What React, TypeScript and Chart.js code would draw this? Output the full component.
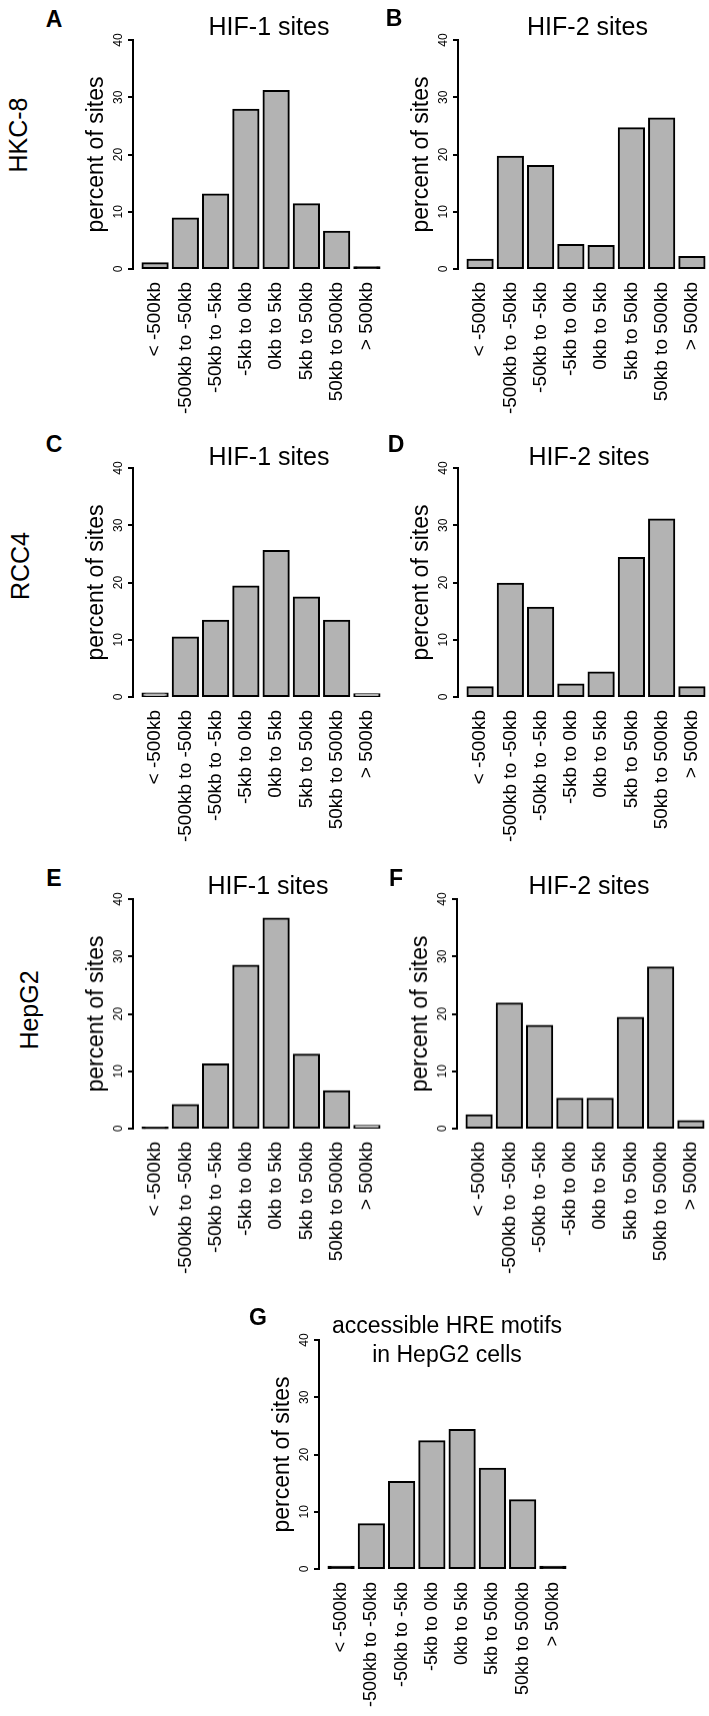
import React, { useEffect, useRef } from "react";
import { Chart, registerables } from "chart.js";

Chart.register(...registerables);

// ---------- data ----------
const categories = [
  "< -500kb",
  "-500kb to -50kb",
  "-50kb to -5kb",
  "-5kb to 0kb",
  "0kb to 5kb",
  "5kb to 50kb",
  "50kb to 500kb",
  "> 500kb",
];
const yTicks = [0, 10, 20, 30, 40];

const hkc8Hif1 = [1.0, 8.8, 13.0, 27.8, 31.1, 11.3, 6.5, 0.3];
const hkc8Hif2 = [1.6, 19.6, 18.0, 4.2, 4.0, 24.6, 26.3, 2.1];
const rcc4Hif1 = [0.6, 10.4, 13.3, 19.3, 25.5, 17.4, 13.3, 0.5];
const rcc4Hif2 = [1.7, 19.8, 15.6, 2.2, 4.3, 24.3, 31.0, 1.7];
const hepg2Hif1 = [0.1, 4.1, 11.2, 28.4, 36.6, 12.9, 6.5, 0.5];
const hepg2Hif2 = [2.3, 21.8, 17.9, 5.2, 5.2, 19.3, 28.1, 1.3];
const hepg2Hre = [0.4, 7.8, 15.2, 22.3, 24.3, 17.5, 12.0, 0.4];

// ---------- layout (positions only) ----------
const FONT = "'Liberation Sans', Arial, Helvetica, sans-serif";
const PLOT_W = 256;
const PAD_L = 70;
const PAD_T = 20;
const PAD_R = 10;
const PAD_B = 175;

type PanelDef = { values: number[]; L: number; T: number; B: number; labelSize: number };

const panels: PanelDef[] = [
  { values: hkc8Hif1, L: 133, T: 39.5, B: 269, labelSize: 19 },
  { values: hkc8Hif2, L: 458, T: 39.5, B: 269.3, labelSize: 19 },
  { values: rcc4Hif1, L: 133, T: 467.6, B: 697.3, labelSize: 19 },
  { values: rcc4Hif2, L: 457.5, T: 467.5, B: 696.7, labelSize: 19 },
  { values: hepg2Hif1, L: 133.3, T: 899.3, B: 1129, labelSize: 19 },
  { values: hepg2Hif2, L: 456.5, T: 899.3, B: 1129, labelSize: 19 },
  { values: hepg2Hre, L: 319.3, T: 1340, B: 1569, labelSize: 18 },
];

type LabelDef = { text: string; x: number; y: number; size: number; bold?: boolean; rotate?: boolean };

const labels: LabelDef[] = [
  { text: "A", x: 54, y: 18.5, size: 23, bold: true },
  { text: "B", x: 394, y: 18, size: 23, bold: true },
  { text: "C", x: 54, y: 443.5, size: 23, bold: true },
  { text: "D", x: 396, y: 443.5, size: 23, bold: true },
  { text: "E", x: 54, y: 877.5, size: 23, bold: true },
  { text: "F", x: 396, y: 877.5, size: 23, bold: true },
  { text: "G", x: 258, y: 1317, size: 23, bold: true },
  { text: "HIF-1 sites", x: 269, y: 26, size: 25 },
  { text: "HIF-2 sites", x: 587.5, y: 26, size: 25 },
  { text: "HIF-1 sites", x: 269, y: 456, size: 25 },
  { text: "HIF-2 sites", x: 589, y: 456, size: 25 },
  { text: "HIF-1 sites", x: 268, y: 885, size: 25 },
  { text: "HIF-2 sites", x: 589, y: 885, size: 25 },
  { text: "accessible HRE motifs", x: 447, y: 1325, size: 23 },
  { text: "in HepG2 cells", x: 447, y: 1354, size: 23 },
  { text: "HKC-8", x: 18, y: 135, size: 25, rotate: true },
  { text: "RCC4", x: 20, y: 566, size: 25, rotate: true },
  { text: "HepG2", x: 29, y: 1010, size: 25, rotate: true },
];

function Panel({ def }: { def: PanelDef }) {
  const ref = useRef<HTMLCanvasElement | null>(null);
  const width = PLOT_W + PAD_L + PAD_R;
  const height = def.B - def.T + PAD_T + PAD_B;

  useEffect(() => {
    if (!ref.current) return;
    const pxPerUnit = (def.B - def.T) / 40;
    const chart = new Chart(ref.current, {
      type: "bar",
      data: {
        datasets: [
          {
            data: def.values.map((v, i) => ({ x: i, y: v })),
            backgroundColor: def.values.map((v) => (v * pxPerUnit <= 2.5 ? "#000000" : "#b3b3b3")),
            borderColor: "#000000",
            borderWidth: 2,
            borderSkipped: false,
            inflateAmount: 1,
            barPercentage: 0.833,
            categoryPercentage: 1,
            clip: false,
          } as any,
        ],
      },
      options: {
        animation: false,
        responsive: false,
        devicePixelRatio: 1,
        events: [],
        layout: { padding: { left: PAD_L - 50, top: PAD_T, right: PAD_R, bottom: 10 } },
        plugins: { legend: { display: false }, tooltip: { enabled: false }, title: { display: false } },
        scales: {
          x: {
            type: "linear",
            min: -0.73,
            max: 7.73,
            offset: false,
            grid: { display: false },
            border: { display: false },
            afterBuildTicks: (s: any) => {
              s.ticks = categories.map((_, i) => ({ value: i }));
            },
            afterFit: (s: any) => {
              s.height = PAD_B - 10;
            },
            ticks: {
              autoSkip: false,
              minRotation: 90,
              maxRotation: 90,
              padding: 5,
              color: "#000",
              font: { family: FONT, size: def.labelSize },
              callback: (v: any) => categories[Math.round(Number(v))] ?? "",
            },
          },
          y: {
            type: "linear",
            min: 0,
            max: 40,
            afterBuildTicks: (s: any) => {
              s.ticks = yTicks.map((v) => ({ value: v }));
            },
            afterFit: (s: any) => {
              s.width = 50;
            },
            grid: { drawOnChartArea: false, drawTicks: true, tickLength: 5, color: "#000", lineWidth: 2 },
            border: { display: true, color: "#000", width: 2 },
            ticks: {
              minRotation: 90,
              maxRotation: 90,
              crossAlign: "center",
              padding: 2.3,
              color: "#000",
              font: { family: FONT, size: 12 },
            },
            title: {
              display: true,
              text: "percent of sites",
              color: "#000",
              font: { family: FONT, size: 23 },
              padding: 0,
            },
          },
        },
      } as any,
    });
    return () => chart.destroy();
  }, [def]);

  return (
    <canvas
      ref={ref}
      width={width}
      height={height}
      style={{
        position: "absolute",
        left: def.L - PAD_L,
        top: def.T - PAD_T,
        width,
        height,
      }}
    />
  );
}

function Label({ d }: { d: LabelDef }) {
  return (
    <div
      style={{
        position: "absolute",
        left: d.x,
        top: d.y,
        transform: `translate(-50%, -50%)${d.rotate ? " rotate(-90deg)" : ""}`,
        fontFamily: FONT,
        fontSize: d.size,
        fontWeight: d.bold ? "bold" : "normal",
        lineHeight: 1,
        whiteSpace: "nowrap",
        color: "#000",
      }}
    >
      {d.text}
    </div>
  );
}

export default function App() {
  return (
    <div
      style={{
        position: "absolute",
        left: 0,
        top: 0,
        width: 709,
        height: 1716,
        overflow: "hidden",
        background: "#fff",
      }}
    >
      {panels.map((p, i) => (
        <Panel key={i} def={p} />
      ))}
      {labels.map((l, i) => (
        <Label key={i} d={l} />
      ))}
    </div>
  );
}
